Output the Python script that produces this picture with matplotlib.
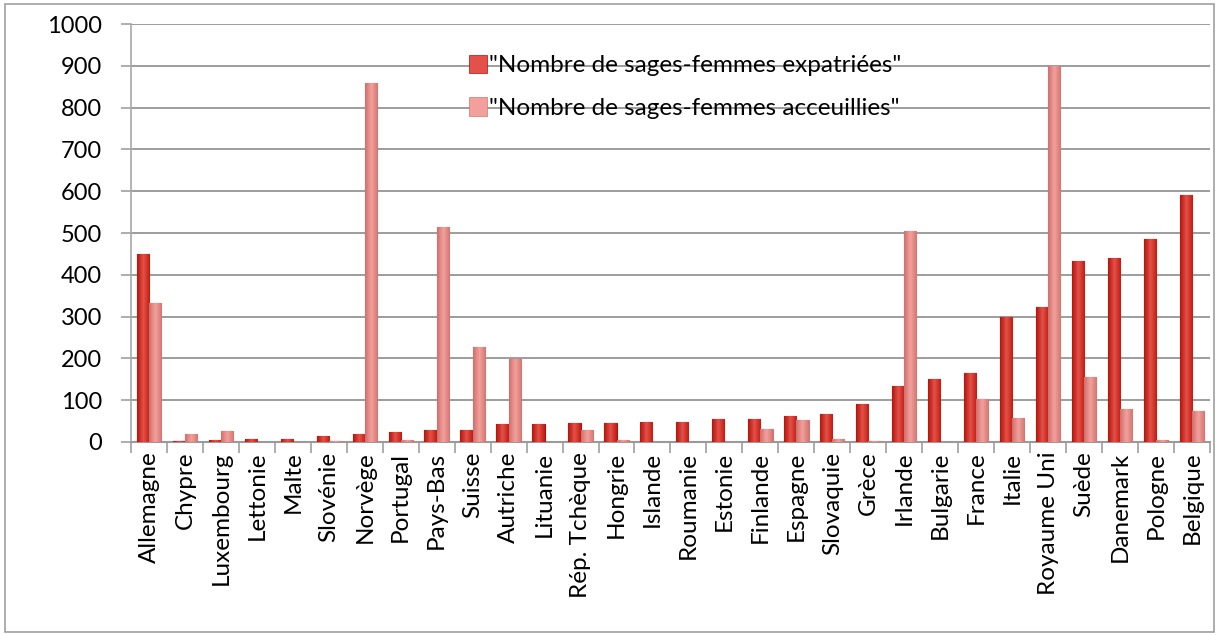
import numpy as np
import matplotlib
matplotlib.use("Agg")
import matplotlib.pyplot as plt
from matplotlib.colors import LinearSegmentedColormap
from matplotlib.patches import Rectangle

countries = ["Allemagne", "Chypre", "Luxembourg", "Lettonie", "Malte", "Slovénie",
             "Norvège", "Portugal", "Pays-Bas", "Suisse", "Autriche", "Lituanie",
             "Rép. Tchèque", "Hongrie", "Islande", "Roumanie", "Estonie", "Finlande",
             "Espagne", "Slovaquie", "Grèce", "Irlande", "Bulgarie", "France", "Italie",
             "Royaume Uni", "Suède", "Danemark", "Pologne", "Belgique"]
expatriees = [450, 3, 5, 8, 8, 15, 18, 23, 28, 28, 43, 42, 45, 45, 47, 47, 56, 56,
              62, 67, 90, 133, 150, 165, 300, 323, 433, 440, 485, 590]
accueillies = [332, 18, 27, 0, 0, 3, 860, 5, 515, 227, 198, 0, 28, 5, 0, 0, 0, 30,
               52, 8, 3, 505, 0, 102, 57, 900, 155, 78, 5, 73]
series_names = ['"Nombre de sages-femmes expatriées"', '"Nombre de sages-femmes acceuillies"']
yticks = [0, 100, 200, 300, 400, 500, 600, 700, 800, 900, 1000]

plt.rcParams['font.family'] = ['Lato', 'DejaVu Sans']

fig = plt.figure(figsize=(12.19, 6.35), dpi=100)
# outer border
fig.patches.append(Rectangle((0.004, 0.004), 0.992, 0.990, transform=fig.transFigure,
                             fill=False, edgecolor='#a0a0a0', linewidth=1.2))
ax = fig.add_axes([0.1075, 0.304, 0.885, 0.658])

x = np.arange(len(countries))
w = 0.34
cm_red = LinearSegmentedColormap.from_list('r', ['#b3140a', '#e4514a', '#c01d12'])
cm_pink = LinearSegmentedColormap.from_list('p', ['#cf6f6c', '#f3a09c', '#d27672'])
grad = np.linspace(0, 1, 64).reshape(1, -1)

def draw(vals, offset, cmap, edge, label):
    bars = ax.bar(x + offset, vals, width=w, color=cmap(0.5), edgecolor=edge,
                  linewidth=0.8, label=label, zorder=3)
    for b in bars:
        h = b.get_height()
        if h <= 0:
            continue
        im = ax.imshow(grad, cmap=cmap, aspect='auto', zorder=3.5,
                       extent=(b.get_x(), b.get_x() + b.get_width(), 0, h))
        im.set_clip_path(b)
    return bars

draw(expatriees, -w / 2, cm_red, '#a5140a', series_names[0])
draw(accueillies, w / 2, cm_pink, '#c87874', series_names[1])

ax.set_xlim(-0.5, len(countries) - 0.5)
ax.set_ylim(0, 1000)
ax.set_yticks(yticks)
ax.set_yticklabels([str(v) for v in yticks], fontsize=17)
ax.yaxis.grid(True, color='#8c8c8c', linewidth=1.2, zorder=0)
ax.set_axisbelow(True)

ax.set_xticks(x)
ax.set_xticklabels(countries, rotation=90, fontsize=17.5, va='top', ha='center')
ax.tick_params(axis='x', length=0, pad=7)
ax.set_xticks(np.arange(-0.5, len(countries)), minor=True)
ax.tick_params(axis='x', which='minor', length=8, color='#a0a0a0', width=1.2)
ax.tick_params(axis='y', length=7, color='#a0a0a0', width=1.2, pad=14)

for s in ['top', 'right']:
    ax.spines[s].set_visible(False)
ax.spines['left'].set_color('#a8a8a8')
ax.spines['left'].set_linewidth(1.2)
ax.spines['bottom'].set_color('#9a9a9a')
ax.spines['bottom'].set_linewidth(1.5)

leg = ax.legend(loc='upper left', bbox_to_anchor=(0.304, 0.95), frameon=False,
                fontsize=17.5, handlelength=0.75, handleheight=0.8, handletextpad=0.1,
                labelspacing=0.85, borderaxespad=0)
for h in leg.legend_handles:
    h.set_linewidth(0.5)

fig.savefig('out.png', dpi=100)
